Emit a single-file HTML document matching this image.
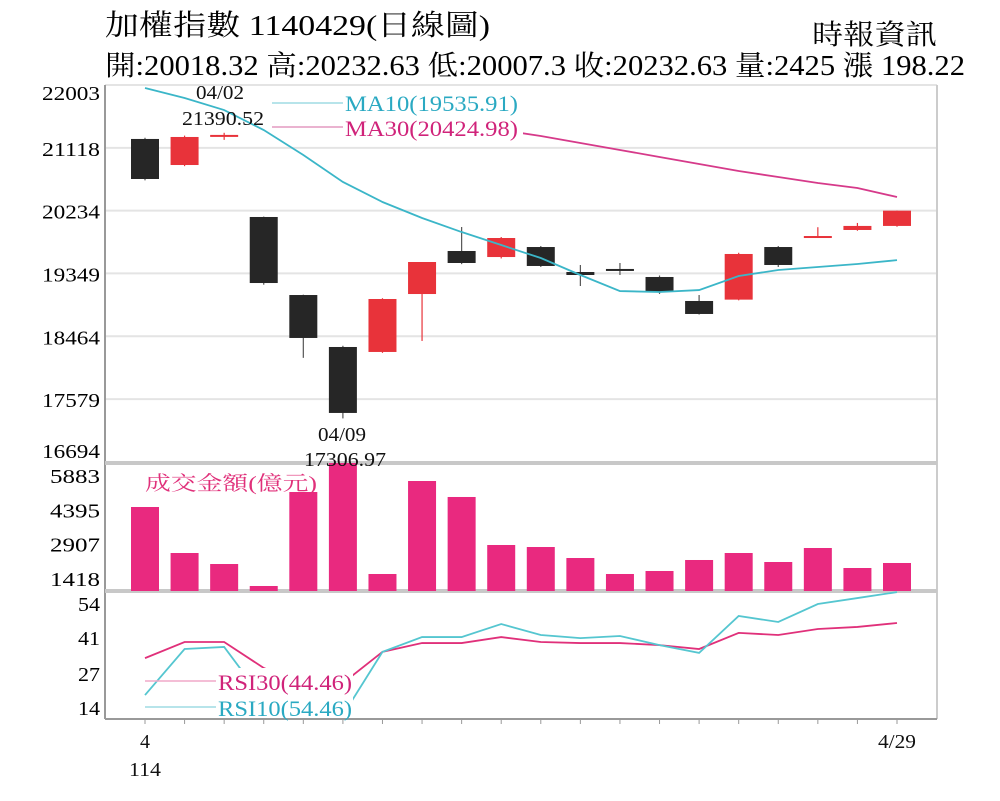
<!DOCTYPE html>
<html><head><meta charset="utf-8"><style>
html,body{margin:0;padding:0;background:#fff;}
svg{display:block;}
text{font-family:"Liberation Serif","Noto Serif CJK TC","Noto Serif CJK SC",serif;}
</style></head><body>
<svg id="chart" width="1000" height="801" viewBox="0 0 1000 801" xmlns="http://www.w3.org/2000/svg">
<rect width="1000" height="801" fill="#fff"/>
<text x="105" y="35" font-size="29" textLength="385" lengthAdjust="spacingAndGlyphs">加權指數 1140429(日線圖)</text>
<text x="812" y="44" font-size="28" textLength="125" lengthAdjust="spacingAndGlyphs">時報資訊</text>
<text x="105" y="75" font-size="28" textLength="860" lengthAdjust="spacingAndGlyphs">開:20018.32 高:20232.63 低:20007.3 收:20232.63 量:2425 漲 198.22</text>
<g id="grid"></g>
<g id="candles"></g>
<g id="lines"></g>
<g id="overlay"></g>
</svg>
<script>
const days = ["4/1","4/2","4/3","4/7","4/8","4/9","4/10","4/11","4/14","4/15","4/16","4/17","4/18","4/21","4/22","4/23","4/24","4/25","4/28","4/29"];
const openV  = [21243,20876,21290,20144,19045,18313,18243,19059,19665,19580,19721,19369,19412,19299,18961,18980,19721,19862,19961,20018];
const highV  = [21260,21290,21330,20150,19050,18330,19000,19510,20003,19862,19735,19468,19496,19320,19045,19640,19735,20000,20060,20233];
const lowV   = [20660,20860,21230,19190,18160,17307,18230,18398,19480,19560,19440,19172,19327,19060,18770,18970,19440,19850,19950,20007];
const closeV = [20679,21271,21300,19214,18440,17384,18989,19510,19496,19848,19454,19327,19391,19088,18778,19623,19468,19876,20018,20233];
const ma10 = [21961,21820,21650,21369,21017,20637,20355,20130,19932,19749,19566,19327,19101,19087,19115,19313,19397,19440,19482,19536];
const ma30 = [null,null,null,null,null,null,null,null,null,21369,21285,21186,21088,20989,20890,20792,20707,20623,20552,20425];
const volume = [4495,2501,2024,1071,5145,6402,1591,5622,4929,2848,2761,2284,1591,1721,2198,2501,2111,2718,1851,2068];
const rsi30 = [32.8,39.0,39.0,29.0,22.5,23.2,35.2,38.6,38.6,40.9,39.0,38.6,38.6,37.8,36.3,42.5,41.7,44.0,44.8,46.3];
const rsi10 = [18.6,36.3,37.1,16.7,10.9,10.9,35.2,40.9,40.9,45.9,41.7,40.5,41.3,37.8,34.8,49.0,46.7,53.6,55.9,58.2];
const priceTicks = [22003,21118,20234,19349,18464,17579,16694];
const volTicks = [5883,4395,2907,1418];
const rsiTicks = [54,41,27,14];

const NS="http://www.w3.org/2000/svg";
function mk(parent,tag,attrs){const e=document.createElementNS(NS,tag);for(const k in attrs)e.setAttribute(k,attrs[k]);parent.appendChild(e);return e;}
const L=105,R=937;
const xOf=i=>145+i*(897-145)/(days.length-1);
const yP=v=>85+(22003-v)*0.0710;
const yV=v=>591-(v-854)*0.02307;
const yR=v=>603+(54-v)*2.6;

const grid=document.getElementById('grid');
// price grid
priceTicks.forEach(t=>{
  const y=yP(t);
  if(t!==16694){const g=mk(grid,'line',{x1:L,x2:R,y1:y,y2:y,stroke:'#e4e4e4','stroke-width':2});
  
  }
  const tx=mk(grid,'text',{x:100,y:y+(t===22003?15:t===16694?-4:8),'font-size':20,'text-anchor':'end',textLength:58,lengthAdjust:'spacingAndGlyphs'});
  tx.textContent=t;
  
  
});
volTicks.forEach(t=>{
  const tx=mk(grid,'text',{x:100,y:yV(t)+8,'font-size':20,'text-anchor':'end',textLength:t>=1000?50:24,lengthAdjust:'spacingAndGlyphs'});
  tx.textContent=t;
  
  
});
rsiTicks.forEach(t=>{
  const tx=mk(grid,'text',{x:100,y:yR(t)+8,'font-size':20,'text-anchor':'end',textLength:22,lengthAdjust:'spacingAndGlyphs'});
  tx.textContent=t;
  
  
});
// frame
let f=mk(grid,'line',{x1:L,x2:L,y1:85,y2:719,stroke:'#999','stroke-width':2});


f=mk(grid,'line',{x1:R,x2:R,y1:85,y2:719,stroke:'#ccc','stroke-width':2});


f=mk(grid,'line',{x1:L,x2:R,y1:719,y2:719,stroke:'#999','stroke-width':2});


[463,591].forEach(y=>{const s=mk(grid,'line',{x1:L,x2:R,y1:y,y2:y,stroke:'#c8c8c8','stroke-width':4});

});
days.forEach((d,i)=>{const t=mk(grid,'line',{x1:xOf(i),x2:xOf(i),y1:719,y2:724,stroke:'#999','stroke-width':1});

});

// candles
const cg=document.getElementById('candles');
days.forEach((d,i)=>{
  const x=xOf(i),up=closeV[i]>=openV[i],col=up?'#e8333a':'#262626';
  const w=mk(cg,'line',{x1:x,x2:x,y1:yP(highV[i]),y2:yP(lowV[i]),stroke:up?'#e8333a':'#555','stroke-width':1.2});
  
  
  const top=yP(Math.max(openV[i],closeV[i])),bot=yP(Math.min(openV[i],closeV[i]));
  const b=mk(cg,'rect',{x:x-14,y:top,width:28,height:Math.max(2,bot-top),fill:col});
  
  
  const vb=mk(cg,'rect',{x:x-14,y:yV(volume[i]),width:28,height:591-yV(volume[i]),fill:'#e9297f'});
  
  
});

// lines
const lg=document.getElementById('lines');
function poly(arr,yf,color,name){
  const pts=[];arr.forEach((v,i)=>{if(v!==null)pts.push(xOf(i)+','+yf(v));});
  const p=mk(lg,'polyline',{points:pts.join(' '),fill:'none',stroke:color,'stroke-width':1.8});
  
  
}
poly(ma10,yP,'#3bb6c8','ma10-line');
poly(ma30,yP,'#d63a8a','ma30-line');
poly(rsi30,yR,'#e0307a','rsi30-line');
poly(rsi10,yR,'#55c6d0','rsi10-line');

// overlays
const og=document.getElementById('overlay');
function label(txt,x,y,size,color,name,len,anchor){
  const t=mk(og,'text',{x:x,y:y,'font-size':size,fill:color,'text-anchor':anchor||'start'});
  if(len){t.setAttribute('textLength',len);t.setAttribute('lengthAdjust','spacingAndGlyphs');}
  t.textContent=txt;
  
  
  return t;
}
function stub(x1,x2,y,color,name){const s=mk(og,'line',{x1:x1,x2:x2,y1:y,y2:y,stroke:color,'stroke-width':1.5});

}
stub(272,343,103,'#9fdbe3','ma10-legend-line');
stub(272,343,127,'#e49ac0','ma30-legend-line');
let bg=mk(og,'rect',{x:343,y:89,width:180,height:50,fill:'#fff'});


label('MA10(19535.91)',345,111,22,'#2aa9c2','ma10-legend',173);
label('MA30(20424.98)',345,136,22,'#d0237a','ma30-legend',173);
label('04/02',220,99,20,'#111','high-date-label',48,'middle');
label('21390.52',223,125,20,'#111','high-value-label',82,'middle');
label('04/09',342,441,20,'#111','low-date-label',48,'middle');
label('17306.97',345,466,20,'#111','low-value-label',82,'middle');
label('成交金額(億元)',145,490,20,'#e0307a','volume-legend',172);
stub(145,216,681,'#f0a8c8','rsi30-legend-line');
stub(145,216,707,'#9fdbe3','rsi10-legend-line');
bg=mk(og,'rect',{x:217,y:668,width:136,height:50,fill:'#fff'});


label('RSI30(44.46)',218,690,22,'#d0237a','rsi30-legend',134);
label('RSI10(54.46)',218,716,22,'#2aa9c2','rsi10-legend',134);
label('4',145,748,20,'#111','x-label-start',null,'middle');
label('114',145,776,20,'#111','x-label-year',32,'middle');
label('4/29',897,748,20,'#111','x-label-end',38,'middle');
</script>
</body></html>
